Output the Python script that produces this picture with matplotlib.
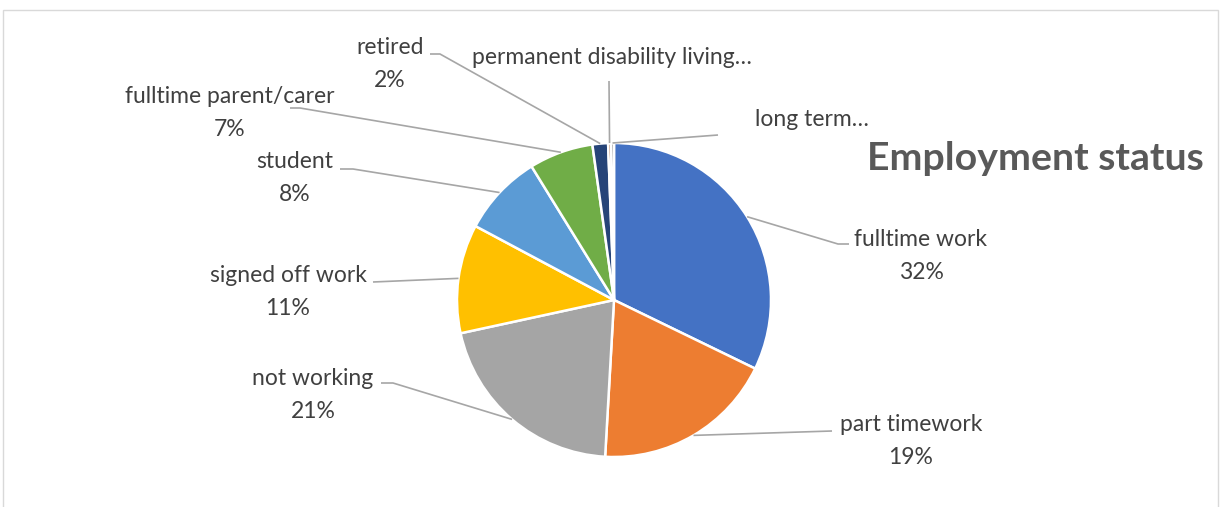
import numpy as np
import matplotlib
matplotlib.use("Agg")
import matplotlib.pyplot as plt
from matplotlib.patches import Rectangle

# employment status shares (percent), clockwise from 12 o'clock
categories = ["fulltime work", "part timework", "not working", "signed off work",
              "student", "fulltime parent/carer", "retired",
              "permanent disability living…", "long term…"]
shares = [32.2, 18.7, 20.7, 11.2, 8.4, 6.6, 1.6, 0.3, 0.3]
colors = ["#4472C4", "#ED7D31", "#A5A5A5", "#FFC000", "#5B9BD5",
          "#70AD47", "#264478", "#9E480E", "#636363"]

W, H = 1220, 507
CX, CY, R = 614, 300, 157

# label layout in pixel coords (y down): text block centre, leader anchor, elbow
label_layout = [
    ((921, 256), (849, 244), (838, 244)),
    ((911, 441), (832, 431), None),
    ((313, 395), (381, 383), (393, 383)),
    ((288, 292), (373, 282), None),
    ((295, 178), (340, 169), (353, 169)),
    ((230, 113), (290, 108), (300, 108)),
    ((390, 64), (430, 54), (440, 54)),
    ((612, 58), (609, 81), None),
    ((812, 119), (718, 135), None),
]

plt.rcParams['font.family'] = ['Lato', 'DejaVu Sans']
fig = plt.figure(figsize=(W / 100, H / 100), dpi=100)
ax = fig.add_axes([0, 0, 1, 1])

wedges, _ = ax.pie(shares, colors=colors, startangle=90, counterclock=False,
                   center=(CX, H - CY), radius=R,
                   wedgeprops=dict(edgecolor="white", linewidth=1.8))
ax.set_xlim(0, W)
ax.set_ylim(0, H)
ax.axis("off")

text_col = "#404040"
line_col = "#A6A6A6"
for w, name, val, (tc, anchor, elbow) in zip(wedges, categories, shares, label_layout):
    mid = np.deg2rad((w.theta1 + w.theta2) / 2)
    rim = (CX + R * np.cos(mid), H - CY + R * np.sin(mid))
    pts = [(anchor[0], H - anchor[1])]
    if elbow:
        pts.append((elbow[0], H - elbow[1]))
    pts.append(rim)
    xs, ys = zip(*pts)
    ax.plot(xs, ys, color=line_col, lw=1.2, solid_capstyle="butt")
    pct = round(val)
    txt = name if pct == 0 else f"{name}\n{pct}%"
    ax.text(tc[0], H - tc[1], txt, ha="center", va="center", fontsize=16.5,
            color=text_col, linespacing=1.68)

ax.text(1035, H - 158, "Employment status", ha="center", va="center",
        fontsize=28.3, fontweight="bold", color="#595959")

# chart area border
fig.patches.append(Rectangle((3 / W, -0.05), 1215 / W, 1.05 - 10 / H,
                             transform=fig.transFigure, fill=False,
                             edgecolor="#D9D9D9", lw=1))

fig.savefig("out.png", dpi=100)
